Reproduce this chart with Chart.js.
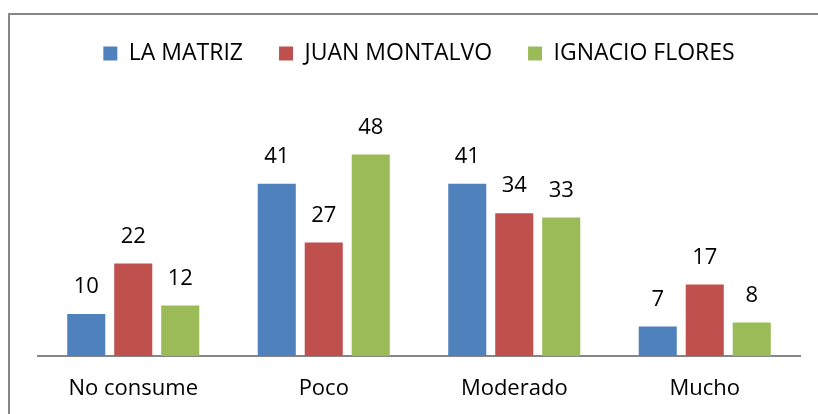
<!DOCTYPE html>
<html>
<head>
<meta charset="utf-8">
<script src="https://cdn.jsdelivr.net/npm/chart.js@4"></script>
<style>
  body { margin: 0; background: #fff; }
  #wrap { position: relative; width: 818px; height: 414px; overflow: hidden; }
  #frame { position: absolute; left: 8px; top: 13px; width: 830px; height: 430px; border: 2px solid #868686; }
  #chart { position: absolute; left: 0; top: 0; }
</style>
</head>
<body>
<div id="wrap">
  <div id="frame"></div>
  <canvas id="chart" width="818" height="414"></canvas>
</div>
<script>
const categories = ['No consume', 'Poco', 'Moderado', 'Mucho'];
const laMatriz = [10, 41, 41, 7];
const juanMontalvo = [22, 27, 34, 17];
const ignacioFlores = [12, 48, 33, 8];

const FONT = "'Open Sans', sans-serif";

// values above each bar
const valueLabels = {
  id: 'valueLabels',
  afterDatasetsDraw(chart) {
    const ctx = chart.ctx;
    ctx.save();
    ctx.font = `22px ${FONT}`;
    ctx.fillStyle = '#000';
    ctx.textAlign = 'center';
    ctx.textBaseline = 'bottom';
    chart.data.datasets.forEach((ds, i) => {
      chart.getDatasetMeta(i).data.forEach((bar, j) => {
        ctx.fillText(ds.data[j], bar.x, bar.y - 16);
      });
    });
    ctx.restore();
  }
};

// extra room under the legend
const legendGap = {
  id: 'legendGap',
  beforeInit(chart) {
    const fit = chart.legend.fit;
    chart.legend.fit = function () {
      fit.bind(chart.legend)();
      this.height += 29;
    };
  }
};

const ctx = document.getElementById('chart').getContext('2d');
new Chart(ctx, {
  type: 'bar',
  data: {
    labels: categories,
    datasets: [
      { label: 'LA MATRIZ', data: laMatriz, backgroundColor: '#4F81BD' },
      { label: 'JUAN MONTALVO', data: juanMontalvo, backgroundColor: '#C0504D' },
      { label: 'IGNACIO FLORES', data: ignacioFlores, backgroundColor: '#9BBB59' }
    ]
  },
  options: {
    responsive: false,
    animation: false,
    categoryPercentage: 0.74,
    barPercentage: 0.81,
    layout: { padding: { top: 6, left: 38, right: 18, bottom: 13 } },
    scales: {
      x: {
        grid: { display: false, drawTicks: false },
        border: { display: true, color: '#868686', width: 2 },
        ticks: { color: '#000', font: { family: FONT, size: 22 }, padding: 20 },
        afterFit(scale) { scale.height = 45; }
      },
      y: {
        display: false,
        min: 0,
        max: 60
      }
    },
    plugins: {
      legend: {
        position: 'top',
        labels: {
          boxWidth: 14,
          boxHeight: 14,
          padding: 36,
          color: '#000',
          font: { family: FONT, size: 23 }
        }
      },
      tooltip: { enabled: false }
    }
  },
  plugins: [valueLabels, legendGap]
});
</script>
</body>
</html>
